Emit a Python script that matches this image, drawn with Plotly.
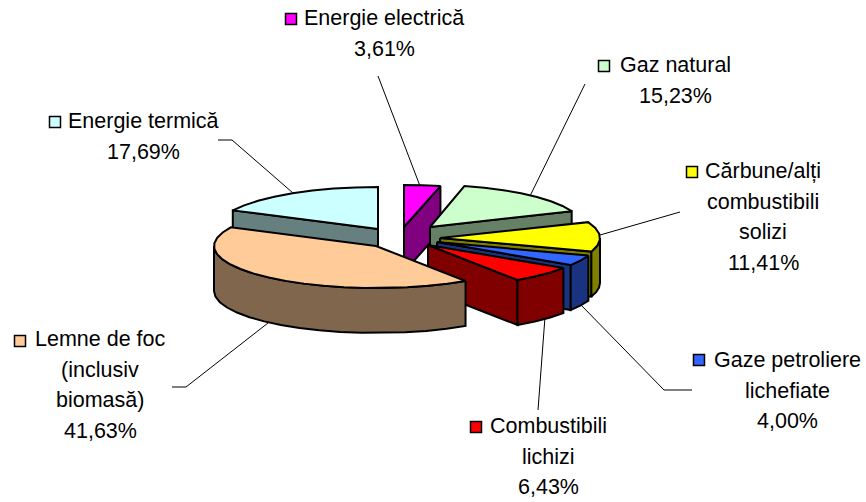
import math
import plotly.graph_objects as go

# Data
categories = ["Energie electrică", "Gaz natural", "Cărbune/alți combustibili solizi",
              "Gaze petroliere lichefiate", "Combustibili lichizi",
              "Lemne de foc (inclusiv biomasă)", "Energie termică"]
values = [3.61, 15.23, 11.41, 4.00, 6.43, 41.63, 17.69]
top_colors = ["#FF00FF", "#CCFFCC", "#FFFF00", "#3366FF", "#FF0000", "#FFCC99", "#CCFFFF"]
side_colors = ["#800080", "#668066", "#808000", "#1A3380", "#800000", "#80664D", "#668080"]

# Layout of the tilted, exploded pie (in page pixels)
RY, DEPTH = 42, 45
radii = [162, 153, 160, 160, 162, 162, 162]
apex = [(404, 227), (430, 227), (440, 238), (437, 242), (428, 245), (376, 246), (378, 229)]
draw_order = [6, 0, 1, 2, 3, 4, 5]

label_lines = [
    ["Energie electrică", "3,61%"],
    ["Gaz natural", "15,23%"],
    ["Cărbune/alți", "combustibili", "solizi", "11,41%"],
    ["Gaze petroliere", "lichefiate", "4,00%"],
    ["Combustibili", "lichizi", "6,43%"],
    ["Lemne de foc", "(inclusiv", "biomasă)", "41,63%"],
    ["Energie termică", "17,69%"],
]
label_centers = [(384, 18), (675, 65), (763, 171), (787, 360), (548, 426), (100, 339), (143, 121)]
key_xy = [(291, 19), (604, 66), (692, 172), (699, 360), (476, 427), (20, 341), (55, 122)]
line_step = 30.7
leaders = [
    [(378, 76), (420, 186)],
    [(585, 84), (530, 196)],
    [(680, 212), (600, 235)],
    [(692, 390), (664, 390), (581, 305)],
    [(538, 410), (545, 317)],
    [(172, 387), (186, 387), (268, 323)],
    [(218, 140), (232, 140), (293, 193)],
]

def rim(a, cx, cy, rx):
    t = math.radians(a)
    return cx + rx * math.sin(t), cy - RY * math.cos(t)

def arc(a0, a1, cx, cy, rx, step=7.5):
    n = max(1, round((a1 - a0) / step))
    return [rim(a0 + (a1 - a0) * i / n, cx, cy, rx) for i in range(n + 1)]

fig = go.Figure()

def poly(pts, fill):
    fig.add_trace(go.Scatter(
        x=[p[0] for p in pts] + [pts[0][0]], y=[p[1] for p in pts] + [pts[0][1]],
        mode="lines", fill="toself", fillcolor=fill,
        line=dict(color="black", width=2), hoverinfo="skip", showlegend=False))

# leader lines
for seg in leaders:
    fig.add_trace(go.Scatter(x=[p[0] for p in seg], y=[p[1] for p in seg], mode="lines",
                             line=dict(color="black", width=1), hoverinfo="skip", showlegend=False))

# angular extents from the values
total = sum(values)
starts, acc = [], 0.0
for v in values:
    starts.append(acc)
    acc += v / total * 360

def radial_visible(A, P, M):
    ex, ey = P[0] - A[0], P[1] - A[1]
    c_in = ex * (M[1] - A[1]) - ey * (M[0] - A[0])
    return c_in * ex < 0

for i in draw_order:
    a0, a1 = starts[i], starts[i] + values[i] / total * 360
    cx, cy = apex[i]
    rx = radii[i]
    A = (cx, cy)
    M = rim((a0 + a1) / 2, cx, cy, rx)
    M = ((M[0] + cx) / 2, (M[1] + cy) / 2)
    for ang in (a0, a1):
        P = rim(ang, cx, cy, rx)
        if radial_visible(A, P, M):
            poly([A, P, (P[0], P[1] + DEPTH), (cx, cy + DEPTH)], side_colors[i])
    lo, hi = max(a0, 90), min(a1, 270)
    if lo < hi:
        top = arc(lo, hi, cx, cy, rx)
        poly(top + [(x, y + DEPTH) for x, y in reversed(top)], side_colors[i])
    poly([A] + arc(a0, a1, cx, cy, rx), top_colors[i])

# legend keys
fig.add_trace(go.Scatter(
    x=[p[0] for p in key_xy], y=[p[1] for p in key_xy], mode="markers",
    marker=dict(symbol="square", size=11, color=top_colors, line=dict(color="black", width=1.5)),
    hoverinfo="skip", showlegend=False))

annotations = []
for lines, (cx, cy) in zip(label_lines, label_centers):
    for j, t in enumerate(lines):
        annotations.append(dict(x=cx, y=cy + j * line_step, text=t, xref="x", yref="y",
                                showarrow=False, xanchor="center", yanchor="middle",
                                font=dict(family="Liberation Sans", size=21.5, color="black")))

fig.update_layout(
    width=866, height=502, margin=dict(l=0, r=0, t=0, b=0),
    paper_bgcolor="white", plot_bgcolor="white",
    xaxis=dict(range=[0, 866], visible=False, fixedrange=True),
    yaxis=dict(range=[502, 0], visible=False, fixedrange=True),
    annotations=annotations, showlegend=False)
fig.write_html("out.html", config={"displayModeBar": False},
               post_script="document.body.style.margin='0';document.body.style.overflow='hidden';")
